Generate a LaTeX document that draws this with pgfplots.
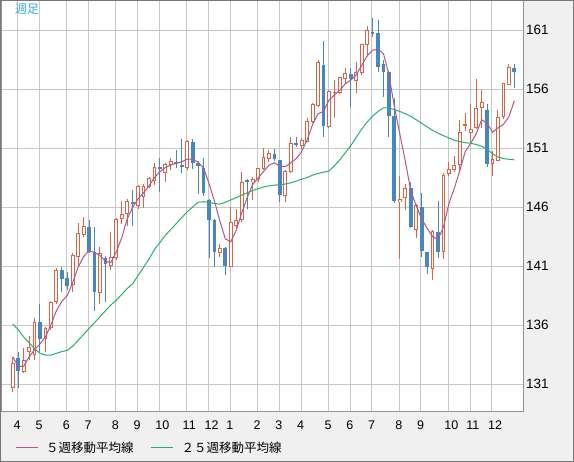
\documentclass[border=0pt]{standalone}
\usepackage{pgfplots}
\pgfplotsset{compat=1.18}
\usepackage{pgfplotstable}
\usepackage{fontspec}
\setmainfont{Liberation Sans}
\newfontfamily\cjk{Noto Sans CJK JP}

\definecolor{upred}{RGB}{220,100,70}
\definecolor{downblue}{RGB}{70,135,195}
\definecolor{maShort}{RGB}{180,85,140}
\definecolor{maLong}{RGB}{40,175,110}
\definecolor{gridgray}{RGB}{200,200,200}
\definecolor{panel}{RGB}{240,240,240}
\definecolor{edge}{RGB}{120,120,120}
\definecolor{tagblue}{RGB}{50,170,230}

% weekly candles, i = week number, o h l c
\pgfplotstableread{
i o h l c
0 130.63 133.32 130.35 132.81
2 132.05 134.02 131.95 133.04
3 133.74 135.07 133.04 134.17
4 133.46 136.57 133.04 136.28
6 134.79 135.80 133.74 135.72
7 135.72 138.00 135.60 137.92
8 137.92 140.80 137.80 140.66
11 139.39 142.08 138.83 141.93
12 141.79 144.67 140.95 143.80
13 143.60 145.12 143.50 144.39
16 138.68 142.60 137.80 142.13
18 141.03 143.90 140.70 141.79
19 141.65 145.04 141.50 144.95
20 144.95 146.53 144.60 145.40
21 145.38 146.65 144.39 146.53
23 146.08 147.86 145.80 147.78
24 146.87 147.95 145.88 147.80
25 147.72 148.57 147.58 148.43
26 148.23 149.75 147.86 149.36
28 148.85 149.70 148.14 149.61
29 149.56 150.12 149.13 149.90
32 149.27 151.68 149.10 151.59
38 142.07 142.90 141.80 142.55
40 140.94 145.97 140.90 144.75
41 144.39 145.80 144.19 144.90
42 144.90 148.93 144.75 148.14
44 148.09 148.57 146.60 148.34
45 148.34 149.30 148.10 149.27
46 149.19 150.97 149.10 150.20
47 150.06 150.83 149.84 150.55
50 146.96 149.14 146.45 149.05
51 149.00 151.96 148.86 151.40
53 151.20 151.82 150.89 151.68
54 151.54 153.52 151.50 153.29
55 153.23 154.79 153.09 154.73
56 154.56 158.46 154.50 158.26
58 152.81 155.92 152.70 155.83
59 155.64 156.77 153.57 155.79
60 155.64 157.00 155.60 157.00
61 156.82 157.75 156.48 157.33
63 156.71 158.32 155.69 157.42
64 157.33 159.82 157.20 159.80
65 159.72 161.33 158.79 160.99
71 146.39 148.65 141.62 146.67
72 146.73 147.94 145.74 147.58
74 144.05 146.22 143.34 146.14
77 140.74 144.05 139.81 143.99
79 142.15 148.90 141.59 148.70
80 148.80 149.84 148.65 149.19
81 149.14 150.35 149.00 149.56
82 149.56 153.37 149.00 152.33
83 152.90 153.94 152.44 153.00
84 152.30 154.70 151.54 152.61
85 152.67 156.85 152.61 154.36
86 154.36 155.91 152.67 154.87
88 149.61 150.75 148.65 150.07
89 149.93 154.22 149.90 153.60
90 153.60 156.48 153.46 156.48
91 156.34 158.09 156.30 157.89
}\upweeks

\pgfplotstableread{
i o h l c
1 133.21 133.74 130.63 132.13
5 136.23 137.78 133.74 134.79
9 140.66 140.95 138.83 139.90
10 139.96 140.50 138.97 139.33
14 144.33 144.90 142.10 142.16
15 142.16 144.27 137.20 138.83
17 141.65 141.85 137.97 141.14
22 146.45 147.44 144.39 146.22
27 149.35 150.12 147.30 149.28
30 149.78 150.83 149.27 149.67
31 149.56 151.76 148.85 149.36
33 151.48 151.76 149.19 149.70
34 149.70 149.90 147.10 149.50
35 149.27 150.12 146.90 147.21
36 146.60 146.70 141.70 144.90
37 144.90 145.00 140.94 142.21
39 142.50 142.60 140.24 141.03
43 148.28 148.35 145.80 148.14
48 150.49 150.89 149.90 150.07
49 149.99 150.00 146.45 147.02
52 151.40 151.96 151.10 151.33
57 158.04 160.10 151.91 152.90
62 157.27 157.75 154.50 156.82
66 160.80 161.98 160.43 160.72
67 160.71 161.84 157.46 157.89
68 158.11 158.45 155.35 157.46
69 157.46 157.50 151.96 153.71
70 153.71 155.20 146.36 146.53
73 147.58 148.09 144.19 144.27
75 146.02 147.21 141.73 142.30
76 142.15 142.20 140.32 140.94
78 143.85 146.50 141.64 142.15
87 154.22 154.70 149.36 149.61
92 157.75 158.09 156.06 157.41
}\downweeks

% 5-week moving average
\pgfplotstableread{
i v
0 133.3
1 132.5
2 132.5
3 133.3
4 133.9
5 134.4
6 135.0
7 136.0
8 137.2
9 138.0
10 138.5
11 139.6
12 140.9
13 141.8
14 142.3
15 142.15
16 141.9
17 141.4
18 141.3
19 142.2
20 143.4
21 145.0
22 145.97
23 146.7
24 147.2
25 147.8
26 148.5
27 149.0
28 149.35
29 149.56
30 149.7
31 149.84
32 150.05
33 150.05
34 149.8
35 149.3
36 148.0
37 146.5
38 144.8
39 143.3
40 143.05
41 144.05
42 145.5
43 146.8
44 147.9
45 148.45
46 149.0
47 149.55
48 149.75
49 149.45
50 149.42
51 149.75
52 150.1
53 150.7
54 151.7
55 153.0
56 153.9
57 154.1
58 155.05
59 155.5
60 155.9
61 156.45
62 156.75
63 157.2
64 158.0
65 158.8
66 159.3
67 159.35
68 159.0
69 157.2
70 154.5
71 152.2
72 149.9
73 147.4
74 146.1
75 145.0
76 144.2
77 143.5
78 143.25
79 144.3
80 146.3
81 147.6
82 149.1
83 150.7
84 151.4
85 152.2
86 153.4
87 153.1
88 152.35
89 152.7
90 153.0
91 153.65
92 155.0
}\maFive

% 25-week moving average
\pgfplotstableread{
i v
0 136.1
1 135.6
2 135.0
3 134.5
4 134.0
5 133.6
6 133.45
7 133.45
8 133.6
9 133.75
10 133.85
11 134.2
12 134.7
13 135.2
14 135.7
15 136.2
16 136.7
17 137.2
18 137.7
19 138.1
20 138.6
21 139.1
22 139.5
23 140.2
24 140.9
25 141.6
26 142.4
27 143.0
28 143.6
29 144.1
30 144.6
31 145.1
32 145.6
33 146.0
34 146.4
35 146.45
36 146.4
37 146.3
38 146.25
39 146.4
40 146.6
41 146.8
42 147.0
43 147.2
44 147.4
45 147.55
46 147.7
47 147.8
48 147.85
49 147.9
50 147.95
51 148.05
52 148.2
53 148.35
54 148.5
55 148.7
56 148.85
57 148.95
58 149.05
59 149.5
60 150.0
61 150.6
62 151.2
63 151.9
64 152.6
65 153.2
66 153.7
67 154.1
68 154.4
69 154.4
70 154.25
71 154.1
72 153.9
73 153.7
74 153.4
75 153.1
76 152.8
77 152.5
78 152.25
79 152.05
80 151.85
81 151.65
82 151.55
83 151.45
84 151.4
85 151.3
86 151.15
87 150.9
88 150.5
89 150.25
90 150.1
91 150.05
92 150.0
}\maTwentyFive

\begin{document}
\begin{tikzpicture}
\useasboundingbox (0,0) rectangle (574bp,462bp);
\fill[panel] (0,0) rectangle (574bp,462bp);
\begin{axis}[
    at={(1bp,50bp)}, anchor=south west,
    scale only axis, width=522bp, height=411bp,
    xmin=-2.15, xmax=93.59, ymin=128.63, ymax=163.46,
    axis background/.style={fill=white},
    axis line style={draw=gray!85, line width=1bp},
    major tick length=0pt,
    xtick={0.88,4.88,9.88,13.88,18.88,22.88,26.88,31.88,35.88,39.88,44.88,48.88,52.88,57.88,61.88,65.88,70.88,74.88,79.88,83.88,87.88},
    xticklabels={4,5,6,7,8,9,10,11,12,1,2,3,4,5,6,7,8,9,10,11,12},
    ytick={131,136,141,146,151,156,161},
    grid=major, major grid style={draw=gridgray, line width=1bp},
    yticklabel pos=right,
    /pgf/number format/assume math mode=true,
    xticklabel style={anchor=north west, inner sep=0pt, xshift=-4bp, yshift=-8.7bp,
        font=\fontsize{12.5bp}{13bp}\selectfont},
    yticklabel style={anchor=west, inner sep=0pt, xshift=3bp,
        font=\fontsize{13.5bp}{14bp}\selectfont},
    legend columns=2, legend cell align=left,
    legend image code/.code={\draw[#1, line width=1bp] (0bp,0bp) -- (22bp,0bp);},
    legend style={at={(0.0268,-0.0864)}, anchor=west, draw=none, fill=none,
        inner sep=0pt, nodes={inner sep=0pt},
        font=\cjk\fontsize{12.5bp}{13bp}\selectfont,
        /tikz/every odd column/.append style={column sep=8bp},
        /tikz/every even column/.append style={column sep=17bp}},
]
% rising weeks: wick, red body, white inside
\addplot[draw=none, mark=none, forget plot,
    error bars/.cd, y dir=both, y explicit, error mark=none,
    error bar style={draw=upred, line width=1bp}]
    table[x=i, y expr={(\thisrow{h}+\thisrow{l})/2}, y error expr={(\thisrow{h}-\thisrow{l})/2}] {\upweeks};
\addplot[draw=none, mark=none, forget plot,
    error bars/.cd, y dir=both, y explicit, error mark=none,
    error bar style={draw=upred, line width=3.8bp}]
    table[x=i, y expr={(\thisrow{o}+\thisrow{c})/2}, y error expr={max((\thisrow{c}-\thisrow{o})/2,0.045)}] {\upweeks};
\addplot[draw=none, mark=none, forget plot,
    error bars/.cd, y dir=both, y explicit, error mark=none,
    error bar style={draw=white, line width=1.8bp}]
    table[x=i, y expr={(\thisrow{o}+\thisrow{c})/2}, y error expr={max((\thisrow{c}-\thisrow{o})/2-0.085,0)}] {\upweeks};
% falling weeks: wick and filled blue body
\addplot[draw=none, mark=none, forget plot,
    error bars/.cd, y dir=both, y explicit, error mark=none,
    error bar style={draw=downblue, line width=1bp}]
    table[x=i, y expr={(\thisrow{h}+\thisrow{l})/2}, y error expr={(\thisrow{h}-\thisrow{l})/2}] {\downweeks};
\addplot[draw=none, mark=none, forget plot,
    error bars/.cd, y dir=both, y explicit, error mark=none,
    error bar style={draw=downblue, line width=3.8bp}]
    table[x=i, y expr={(\thisrow{o}+\thisrow{c})/2}, y error expr={max((\thisrow{o}-\thisrow{c})/2,0.045)}] {\downweeks};
% moving averages
\addplot[maShort, line width=1bp, mark=none] table[x=i, y=v] {\maFive};
\addlegendentry{５週移動平均線}
\addplot[maLong, line width=1bp, mark=none] table[x=i, y=v] {\maTwentyFive};
\addlegendentry{２５週移動平均線}
\node[anchor=north west, inner sep=0pt, text=tagblue,
    font=\cjk\fontsize{12bp}{12bp}\selectfont] at (rel axis cs:0.0268,0.995) {週足};
\end{axis}
\draw[edge, line width=1bp] (0.5bp,0.5bp) rectangle (573.5bp,461.5bp);
\end{tikzpicture}
\end{document}
